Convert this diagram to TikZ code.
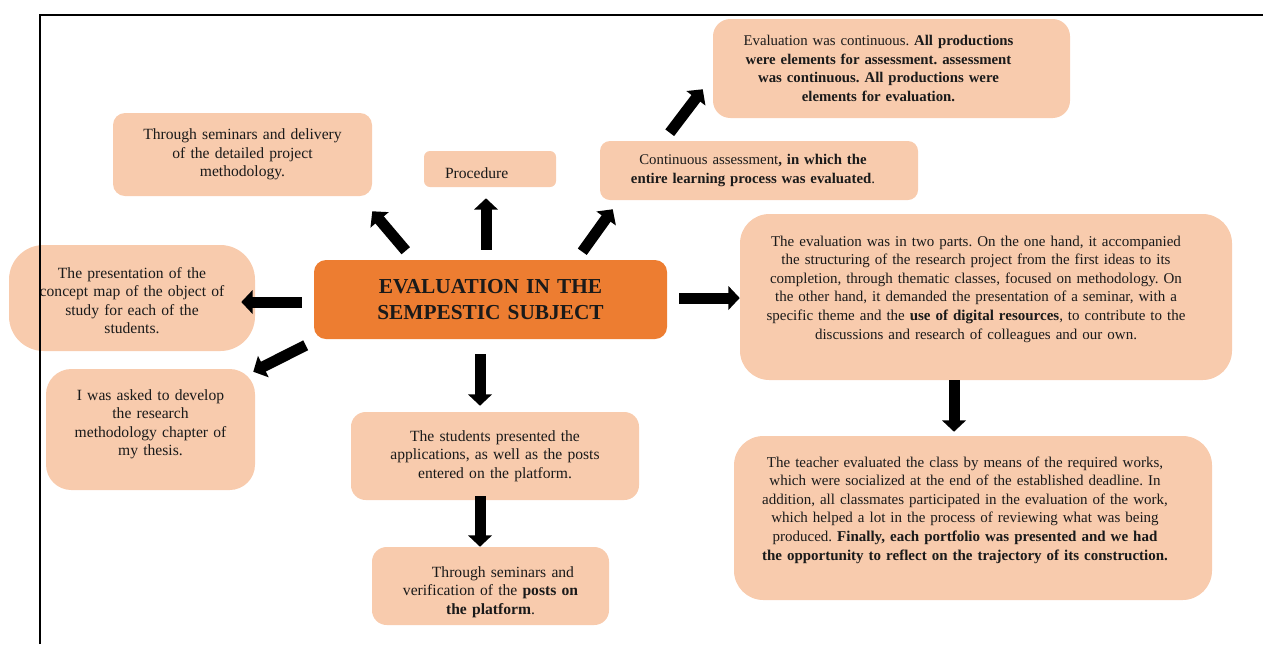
\documentclass[tikz,border=0pt]{standalone}
\usepackage{fontspec}
\setmainfont{Liberation Serif}
\usetikzlibrary{arrows.meta}
\definecolor{peach}{HTML}{F8CBAD}
\definecolor{orangebox}{HTML}{ED7D31}
\definecolor{ink}{HTML}{1A1A1A}
\frenchspacing
\newcommand{\shiftleftby}[1]{\centering\rightskip=#1 plus 1fil\relax}
\tikzset{
  box/.style={fill=peach, draw=none, text=ink, align=center, inner sep=0pt,
    font=\fontsize{11.7}{13.9}\selectfont\frenchspacing},
  bigtext/.style={font=\fontsize{11.25}{13.95}\selectfont\frenchspacing},
  boldtext/.style={font=\fontsize{11.1}{13.9}\selectfont\frenchspacing},
  bigarrow/.style={draw=black, line width=8.25pt, -{Triangle[width=17.5pt,length=8.5pt]}},
}
\begin{document}
\begin{tikzpicture}[x=0.75pt,y=-0.75pt]
\useasboundingbox (0,0) rectangle (1263,644);

% boxes
\node[box, rounded corners=9pt, minimum width=194.25pt, minimum height=62.25pt, text width=190pt] (b1) at (242.5,154.5)
  {Through seminars and delivery\\ of the detailed project\\ methodology.};
\node[box, rounded corners=4.5pt, minimum width=99pt, minimum height=27pt, text width=83pt, align=left] (proc) at (490,169)
  {\rule{0pt}{15pt}\hspace*{7.8pt}Procedure};
\node[box, boldtext, rounded corners=7.5pt, minimum width=238.5pt, minimum height=44.25pt, text width=234pt] (cont) at (759,170.5)
  {\shiftleftby{9pt}Continuous assessment\textbf{, in which the}\\ \textbf{entire learning process was evaluated}.\par};
\node[box, boldtext, rounded corners=13pt, minimum width=267.75pt, minimum height=74.25pt, text width=262pt] (ev) at (891.5,68.5)
  {\shiftleftby{19.5pt}Evaluation was continuous. \textbf{All productions}\\ \textbf{were elements for assessment. assessment}\\ \textbf{was continuous. All productions were}\\ \textbf{elements for evaluation.}\par};
\node[box, bigtext, rounded corners=22pt, minimum width=369pt, minimum height=124.5pt, text width=362pt] (tp) at (986,297)
  {\shiftleftby{15pt}The evaluation was in two parts. On the one hand, it accompanied\\ the structuring of the research project from the first ideas to its\\ completion, through thematic classes, focused on methodology. On\\ the other hand, it demanded the presentation of a seminar, with a\\ specific theme and the \textbf{use of digital resources}, to contribute to the\\ discussions and research of colleagues and our own.\par\vspace*{12pt}};
\node[box, bigtext, rounded corners=22pt, minimum width=358.5pt, minimum height=123pt, text width=352pt] (tt) at (973,518)
  {\shiftleftby{12pt}The teacher evaluated the class by means of the required works,\\ which were socialized at the end of the established deadline. In\\ addition, all classmates participated in the evaluation of the work,\\ which helped a lot in the process of reviewing what was being\\ produced. \textbf{Finally, each portfolio was presented and we had}\\ \textbf{the opportunity to reflect on the trajectory of its construction.}\par\vspace*{12pt}};
\node[box, fill=orangebox, rounded corners=9pt, minimum width=264.75pt, minimum height=59.25pt, text width=258pt,
  font=\fontsize{16}{18.8}\selectfont\bfseries] (c) at (490.5,299.5)
  {EVALUATION IN THE\\ SEMPESTIC SUBJECT};
\node[box, rounded corners=26pt, minimum width=184.5pt, minimum height=79.5pt, text width=180pt] (cm) at (132,298)
  {The presentation of the\\ concept map of the object of\\ study for each of the\\ students.\par\vspace*{-4pt}};
\node[box, rounded corners=19pt, minimum width=156.75pt, minimum height=90.75pt, text width=152pt] (ia) at (150.5,429.5)
  {I was asked to develop\\ the research\\ methodology chapter of\\ my thesis.\par\vspace*{8pt}};
\node[box, rounded corners=11pt, minimum width=216pt, minimum height=66pt, text width=212pt] (st) at (495,456)
  {The students presented the\\ applications, as well as the posts\\ entered on the platform.};
\node[box, rounded corners=11pt, minimum width=177.75pt, minimum height=58.5pt, text width=174pt] (ts) at (490.5,586)
  {\hspace*{1.6em}Through seminars and\\ verification of the \textbf{posts on}\\ \textbf{the platform}.\par\vspace*{-9pt}};

% arrows
\draw[bigarrow] ([shift={(92,-9)}]c.north west) -- ([shift={(0,15)}]b1.south east);
\draw[bigarrow] ([shift={(-4.5,-10)}]c.north) -- ([shift={(-4,11)}]proc.south);
\draw[bigarrow] ([shift={(-85,-8)}]c.north east) -- ([shift={(13,9)}]cont.south west);
\draw[bigarrow] ([shift={(70,-8)}]cont.north west) -- ([shift={(-10,-29)}]ev.south west);
\draw[bigarrow] ([shift={(-12,2.5)}]c.west) -- ([shift={(-14,4)}]cm.east);
\draw[bigarrow] ([shift={(-8,6)}]c.south west) -- ([shift={(-2,3)}]ia.north east);
\draw[bigarrow] ([shift={(-10.5,15)}]c.south) -- ([shift={(-15,-6)}]st.north);
\draw[bigarrow] ([shift={(12,-1.5)}]c.east) -- ([shift={(0,1)}]tp.west);
\draw[bigarrow] ([shift={(-15,-4)}]st.south) -- ([shift={(-10.5,0)}]ts.north);
\draw[bigarrow] ([shift={(-32,0)}]tp.south) -- ([shift={(-19,-4)}]tt.north);

% frame
\draw[line width=1.1pt] (40,644) -- (40,15) -- (1263,15);
\end{tikzpicture}
\end{document}
